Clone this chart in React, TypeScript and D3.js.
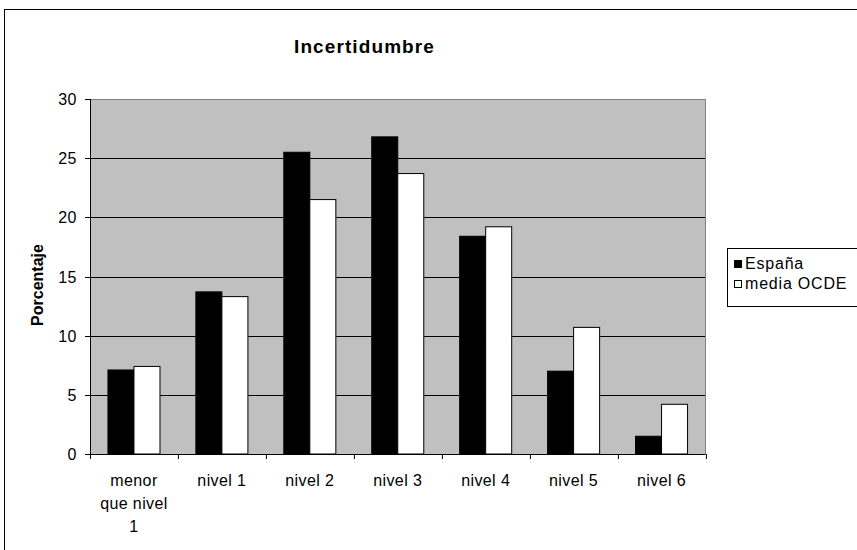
import React from "react";
import * as d3 from "d3";

const categories = ["menor que nivel 1", "nivel 1", "nivel 2", "nivel 3", "nivel 4", "nivel 5", "nivel 6"];
const categoryLines = [["menor", "que nivel", "1"], ["nivel 1"], ["nivel 2"], ["nivel 3"], ["nivel 4"], ["nivel 5"], ["nivel 6"]];
const seriesNames = ["España", "media OCDE"];
const espana = [7.1, 13.7, 25.5, 26.8, 18.4, 7.0, 1.5];
const mediaOCDE = [7.4, 13.3, 21.5, 23.7, 19.2, 10.7, 4.2];
const yTicks = [0, 5, 10, 15, 20, 25, 30];
const title = "Incertidumbre";
const yTitle = "Porcentaje";

const W = 857;
const H = 550;
const plot = { left: 90, right: 705.5, top: 99, bottom: 454 };
const font = "'Liberation Sans', Arial, sans-serif";

export default function App() {
  const x0 = d3.scaleBand<string>().domain(categories).range([plot.left, plot.right]).padding(0);
  const x1 = d3.scaleBand<string>().domain(seriesNames).range([0, x0.bandwidth()]).paddingInner(0).paddingOuter(0.69);
  const y = d3.scaleLinear().domain([0, 30]).range([plot.bottom, plot.top]);
  const seriesData = [espana, mediaOCDE];
  const fills = ["#000000", "#ffffff"];

  return (
    <svg width={W} height={H} style={{ display: "block", position: "absolute", left: 0, top: 0 }}>
      <rect x={0} y={0} width={W} height={H} fill="#fff" />
      <rect x={4.5} y={9.5} width={900} height={600} fill="#fff" stroke="#000" strokeWidth={1} />
      <text x={364.5} y={53} textAnchor="middle" fontFamily={font} fontWeight="bold" fontSize={19} letterSpacing={1.1}>
        {title}
      </text>
      <rect x={plot.left} y={plot.top} width={plot.right - plot.left} height={plot.bottom - plot.top} fill="#C0C0C0" />
      {yTicks.filter((t) => t > 0 && t < 30).map((t) => (
        <line key={"g" + t} x1={plot.left} x2={plot.right} y1={Math.round(y(t)) + 0.5} y2={Math.round(y(t)) + 0.5} stroke="#000" strokeWidth={1} />
      ))}
      <line x1={plot.left} x2={plot.right} y1={plot.top + 0.5} y2={plot.top + 0.5} stroke="#808080" />
      <line x1={plot.right} x2={plot.right} y1={plot.top} y2={plot.bottom} stroke="#808080" />
      {categories.map((c, i) =>
        seriesData.map((s, j) => (
          <rect
            key={c + j}
            x={(x0(c) as number) + (x1(seriesNames[j]) as number)}
            y={y(s[i])}
            width={x1.bandwidth()}
            height={plot.bottom - y(s[i])}
            fill={fills[j]}
            stroke="#000"
            strokeWidth={1}
          />
        ))
      )}
      <line x1={plot.left + 0.5} x2={plot.left + 0.5} y1={plot.top} y2={plot.bottom + 5} stroke="#000" />
      <line x1={plot.left - 5} x2={plot.right} y1={plot.bottom + 0.5} y2={plot.bottom + 0.5} stroke="#000" />
      {yTicks.map((t) => (
        <g key={"t" + t}>
          <line x1={plot.left - 5} x2={plot.left} y1={Math.round(y(t)) + 0.5} y2={Math.round(y(t)) + 0.5} stroke="#000" />
          <text x={77} y={y(t) + 6} textAnchor="end" fontFamily={font} fontSize={16} letterSpacing={0.5}>
            {t}
          </text>
        </g>
      ))}
      {categories.map((c, i) => (
        <g key={"x" + c}>
          <line x1={Math.round(x0(c) as number) + 0.5 + x0.bandwidth()} x2={Math.round(x0(c) as number) + 0.5 + x0.bandwidth()} y1={plot.bottom} y2={plot.bottom + 5} stroke="#000" />
          {categoryLines[i].map((ln, k) => (
            <text key={k} x={(x0(c) as number) + x0.bandwidth() / 2} y={486 + k * 23} textAnchor="middle" fontFamily={font} fontSize={16} letterSpacing={0.4}>
              {ln}
            </text>
          ))}
        </g>
      ))}
      <text transform={`translate(43,285) rotate(-90)`} textAnchor="middle" fontFamily={font} fontWeight="bold" fontSize={16}>
        {yTitle}
      </text>
      <rect x={727.5} y={248.5} width={140} height={58} fill="#fff" stroke="#000" />
      {seriesNames.map((n, j) => (
        <g key={n}>
          <rect x={734.5} y={260.5 + j * 20} width={7} height={7} fill={fills[j]} stroke="#000" />
          <text x={745} y={269 + j * 20} fontFamily={font} fontSize={16} letterSpacing={0.8}>
            {n}
          </text>
        </g>
      ))}
    </svg>
  );
}
